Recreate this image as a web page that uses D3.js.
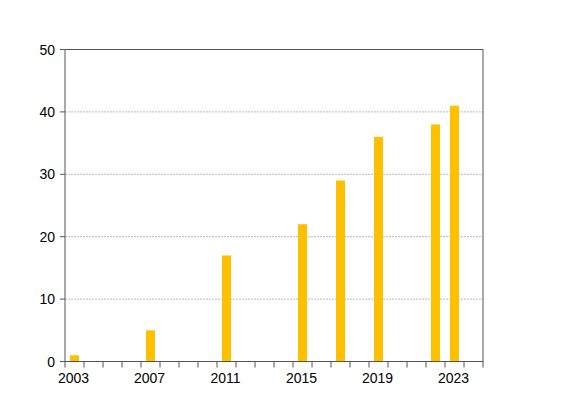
<!DOCTYPE html><html><head><meta charset="utf-8"><script src="https://cdn.jsdelivr.net/npm/d3@7"></script>
<style>body{margin:0;background:#fff}</style></head><body><svg width="562" height="406"></svg>
<script>
const years=d3.range(2003,2025);
const barYears=[2003,2007,2011,2015,2017,2019,2022,2023];
const values=[1,5,17,22,29,36,38,41];
const yTicks=[0,10,20,30,40,50];
const xLabels=[2003,2007,2011,2015,2019,2023];
const L=65,R=483,T=49.5,B=361.5;
const svg=d3.select("svg");
const x=d3.scaleBand().domain(years).range([L,R]);
const y=d3.scaleLinear().domain([0,50]).range([B,T]);
const f="Liberation Sans, Arial, sans-serif";
svg.append("g").selectAll("line").data(yTicks.slice(1,5)).join("line")
 .attr("x1",L).attr("x2",R).attr("y1",d=>y(d)).attr("y2",d=>y(d))
 .attr("stroke","#aaa").attr("stroke-width",0.8).attr("stroke-dasharray","2,1");
svg.append("g").selectAll("rect").data(values).join("rect")
 .attr("x",(d,i)=>x(barYears[i])+x.bandwidth()/2-4.5).attr("width",9)
 .attr("y",d=>y(d)).attr("height",d=>B-y(d)).attr("fill","#ffc000");
svg.append("rect").attr("x",L).attr("y",T).attr("width",R-L).attr("height",B-T)
 .attr("fill","none").attr("stroke","#555").attr("stroke-width",1);
const g=svg.append("g");
g.selectAll(".yt").data(yTicks).join("line").attr("x1",L-5).attr("x2",L).attr("y1",d=>y(d)).attr("y2",d=>y(d)).attr("stroke","#555");
g.selectAll(".yl").data(yTicks).join("text").attr("x",L-10).attr("y",d=>y(d)+5).attr("text-anchor","end")
 .attr("font-family",f).attr("font-size",14).text(d=>d);
const edges=years.map(d=>x(d)).concat([R]);
g.selectAll(".xt").data(edges).join("line").attr("x1",d=>d).attr("x2",d=>d).attr("y1",B).attr("y2",B+6).attr("stroke","#555");
g.selectAll(".xl").data(xLabels).join("text").attr("x",d=>x(d)+x.bandwidth()/2-1).attr("y",B+21).attr("text-anchor","middle")
 .attr("font-family",f).attr("font-size",14).text(d=>d);
</script></body></html>
